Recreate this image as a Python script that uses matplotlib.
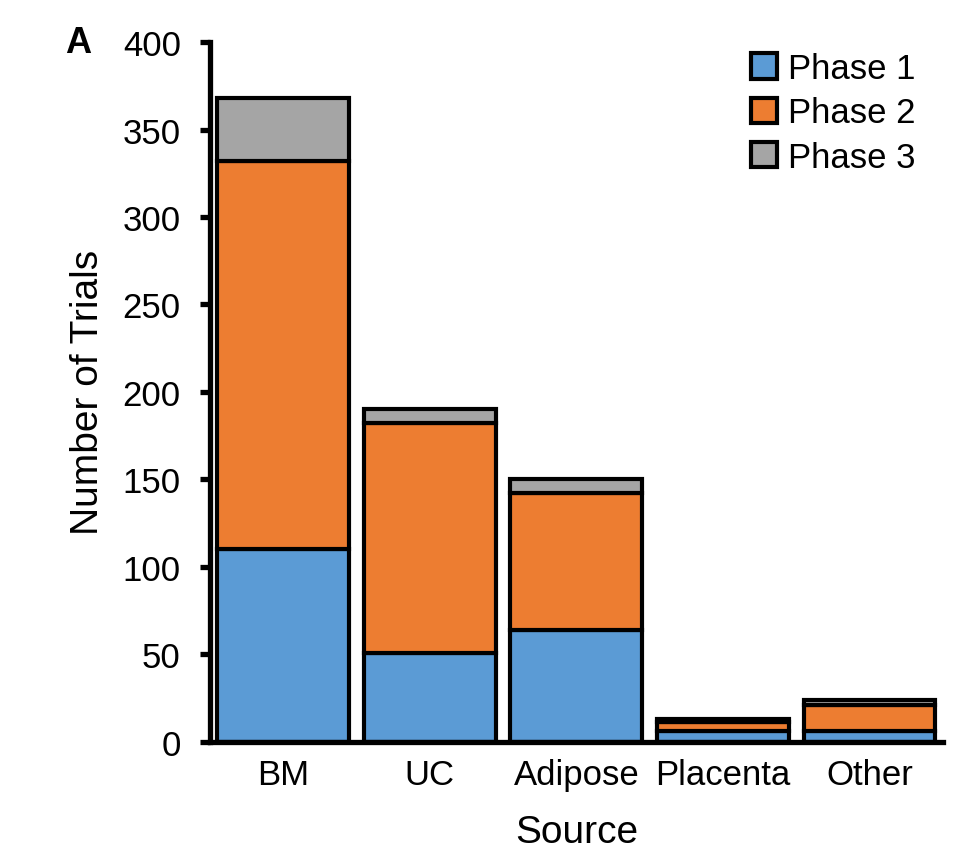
import numpy as np
import matplotlib.pyplot as plt

# Trials per MSC source, split by clinical phase
sources = ['BM', 'UC', 'Adipose', 'Placenta', 'Other']
phase1 = [110, 51, 64, 6, 6]
phase2 = [222, 131, 78, 5, 15]
phase3 = [36, 8, 8, 2, 3]

colors = ['#5B9BD5', '#ED7D31', '#A5A5A5']
plt.rcParams['font.family'] = ['Liberation Sans', 'DejaVu Sans']

fig = plt.figure(figsize=(9.61, 8.54), dpi=100)
ax = fig.add_axes([0.2185, 0.1303, 0.7625, 0.8193])

x = np.arange(len(sources))
bottom = np.zeros(len(sources))
for vals, col, name in zip([phase1, phase2, phase3], colors, ['Phase 1', 'Phase 2', 'Phase 3']):
    ax.bar(x, vals, width=0.9, bottom=bottom, color=col, edgecolor='black',
           linewidth=3, label=name, zorder=2)
    bottom += np.array(vals)

ax.set_xlim(-0.5, 4.5)
ax.set_ylim(0, 400)
ax.set_yticks(np.arange(0, 401, 50))
ax.set_xticks(x)
ax.set_xticklabels(sources)

for s in ['top', 'right']:
    ax.spines[s].set_visible(False)
for s in ['left', 'bottom']:
    ax.spines[s].set_linewidth(3.8)
ax.tick_params(axis='y', length=7, width=3.8, labelsize=25, pad=14)
ax.tick_params(axis='x', length=0, labelsize=25, pad=12)

ax.set_ylabel('Number of Trials', fontsize=28, labelpad=12)
ax.set_xlabel('Source', fontsize=28, labelpad=16)

fig.text(0.068, 0.949, 'A', fontsize=26, fontweight='bold', va='center')

leg = ax.legend(loc='upper right', bbox_to_anchor=(1.005, 1.03), frameon=False,
                fontsize=25, handlelength=0.75, handleheight=0.75, handletextpad=0.3,
                labelspacing=0.32)

fig.savefig('out.png', dpi=100)
